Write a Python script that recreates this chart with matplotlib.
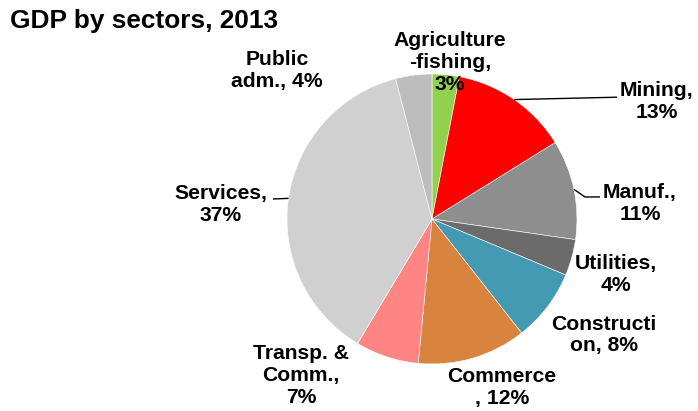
import matplotlib
matplotlib.use("Agg")
import matplotlib.pyplot as plt
import numpy as np

plt.rcParams['font.family'] = ['Liberation Sans', 'DejaVu Sans']

# Sector shares of GDP (%), clockwise from 12 o'clock
sectors = ["Agriculture\n-fishing", "Mining", "Manuf.", "Utilities", "Constructi\non",
           "Commerce\n", "Transp. &\nComm.", "Services", "Public\nadm."]
shares = [3, 13, 11, 4, 8, 12, 7, 37, 4]
colors = ["#92D050", "#FF0000", "#8E8E8E", "#6B6B6B", "#4499B3",
          "#D9843E", "#FF8585", "#D0D0D0", "#BDBDBD"]

# Label texts and their positions (in pie radius units)
label_text = ["Agriculture\n-fishing,\n3%", "Mining,\n13%", "Manuf.,\n11%", "Utilities,\n4%",
              "Constructi\non, 8%", "Commerce\n, 12%", "Transp. &\nComm.,\n7%",
              "Services,\n37%", "Public\nadm., 4%"]
label_pos = [(0.124, 1.076), (1.55, 0.81), (1.434, 0.11), (1.269, -0.386),
             (1.186, -0.80), (0.483, -1.159), (-0.903, -1.076),
             (-1.455, 0.103), (-1.069, 1.021)]

W, H = 698, 411
fig = plt.figure(figsize=(W / 100, H / 100), dpi=100)
cx, cy, r = 432, 219, 145
ax = fig.add_axes([(cx - r) / W, (H - cy - r) / H, 2 * r / W, 2 * r / H])

wedges, _ = ax.pie(shares, colors=colors, startangle=90, counterclock=False,
                   radius=1.0, wedgeprops=dict(edgecolor="white", linewidth=0.4))
ax.set_xlim(-1, 1)
ax.set_ylim(-1, 1)
ax.set_aspect("equal")
ax.axis("off")

for txt, (x, y) in zip(label_text, label_pos):
    ax.text(x, y, txt, ha="center", va="center", fontsize=15.2, fontweight="bold",
            linespacing=1.2, clip_on=False, color="black")

# Leader lines from wedge mid-angle on the rim
def rim(i):
    w = wedges[i]
    a = np.deg2rad((w.theta1 + w.theta2) / 2)
    return np.cos(a), np.sin(a)

leaders = {1: [(1.276, 0.84)], 2: [(1.055, 0.152), (1.159, 0.152)], 7: [(-1.097, 0.138)]}
for i, pts in leaders.items():
    x0, y0 = rim(i)
    xs = [x0] + [p[0] for p in pts]
    ys = [y0] + [p[1] for p in pts]
    ax.plot(xs, ys, color="black", linewidth=1.0, clip_on=False, solid_capstyle="butt")

fig.text(10 / W, 1 - 28 / H, "GDP by sectors, 2013", ha="left", va="baseline",
         fontsize=18.9, fontweight="bold")

fig.savefig("out.png", dpi=100, facecolor="white")
